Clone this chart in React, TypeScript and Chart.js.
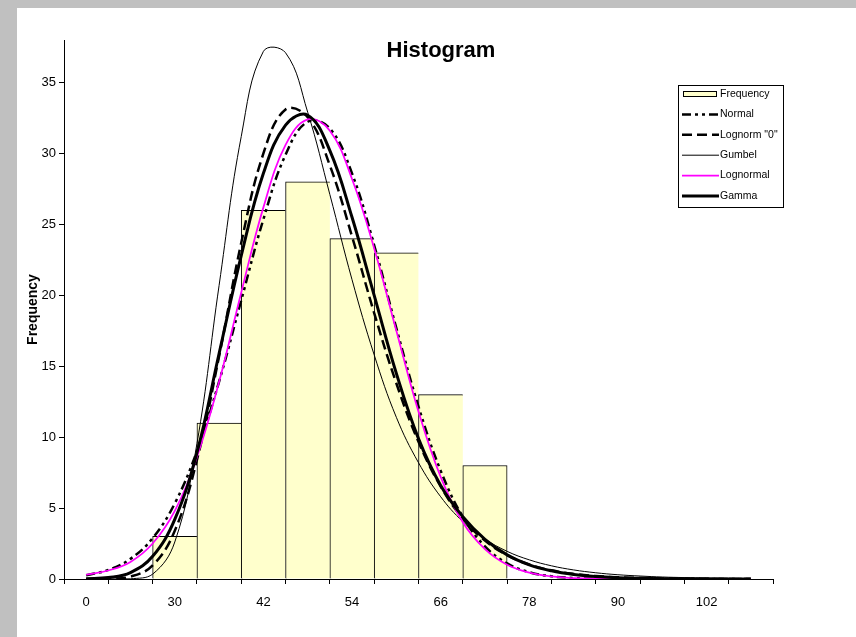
import React, { useEffect, useRef } from "react";
import { Chart, registerables } from "chart.js";

Chart.register(...registerables);

// ---------- data ----------
const binLabels = ["0", "24", "30", "36", "42", "48", "54", "60", "66", "72", "78", "84", "90", "96", "102", "108"];
const frequency = [0, 0, 3, 11, 26, 28, 24, 23, 13, 8, 0, 0, 0, 0, 0, 0];

const curveX = [18, 21, 24, 27, 30, 33, 36, 39, 42, 45, 48, 51, 54, 57, 60, 63, 66, 69, 72, 75, 78, 81, 84, 87, 90, 93, 96, 99, 102, 105, 108];
const normal = [0.27, 0.64, 1.42, 2.88, 5.33, 9.01, 13.92, 19.65, 25.36, 29.91, 32.24, 31.76, 28.59, 23.53, 17.69, 12.16, 7.64, 4.38, 2.3, 1.1, 0.48, 0.19, 0.07, 0.02, 0.01, 0, 0, 0, 0, 0, 0];
const lognorm0 = [0, 0.015, 0.17, 0.96, 3.4, 8.39, 15.7, 23.7, 30.0, 33.1, 32.55, 29.15, 24.15, 18.75, 13.8, 9.67, 6.53, 4.26, 2.71, 1.68, 1.02, 0.61, 0.36, 0.21, 0.12, 0.07, 0.04, 0.02, 0.01, 0.005, 0];
const gumbel = [0, 0, 0.014, 0.34, 2.61, 9.55, 20.7, 31.2, 37.2, 37.1, 32.9, 27.1, 21.1, 15.8, 11.4, 8.2, 5.8, 4.05, 2.82, 1.95, 1.35, 0.93, 0.64, 0.44, 0.3, 0.21, 0.14, 0.1, 0.07, 0.045, 0.03];
const lognormal = [0.3, 0.6, 1.2, 2.5, 4.8, 8.6, 13.9, 20.2, 26.2, 30.6, 32.4, 31.6, 28.2, 23.3, 17.5, 11.8, 7.2, 4.0, 2.1, 1.0, 0.45, 0.18, 0.07, 0.02, 0, 0, 0, 0, 0, 0, 0];
const gamma = [0.02, 0.1, 0.45, 1.6, 4.2, 8.9, 15.9, 22.8, 28.6, 32.0, 32.7, 30.2, 25.5, 20.0, 14.5, 9.9, 6.6, 4.4, 2.8, 1.7, 1.0, 0.58, 0.32, 0.17, 0.09, 0.05, 0.02, 0.01, 0, 0, 0];

const yMax = 38;
const yStep = 5;
const titleText = "Histogram";
const yTitleText = "Frequency";

const FONT = "'Liberation Sans', Arial, Helvetica, sans-serif";

type LegendItem = {
  label: string;
  kind: "box" | "line";
  color?: string;
  width?: number;
  dash?: number[];
};

const legendItems: LegendItem[] = [
  { label: "Frequency", kind: "box" },
  { label: "Normal", kind: "line", color: "#000000", width: 2.5, dash: [9, 4, 3, 4, 3, 4] },
  { label: 'Lognorm "0"', kind: "line", color: "#000000", width: 2.5, dash: [10, 5] },
  { label: "Gumbel", kind: "line", color: "#000000", width: 1, dash: [] },
  { label: "Lognormal", kind: "line", color: "#ff00ff", width: 1.75, dash: [] },
  { label: "Gamma", kind: "line", color: "#000000", width: 3, dash: [] },
];

const toXY = (ys: number[]) => ys.map((y, i) => ({ x: curveX[i], y }));

const decorPlugin = {
  id: "decor",
  afterDraw(chart: any) {
    const ctx = chart.ctx as CanvasRenderingContext2D;
    const area = chart.chartArea;
    ctx.save();
    // title
    ctx.fillStyle = "#000";
    ctx.font = `bold 22px ${FONT}`;
    ctx.textAlign = "center";
    ctx.textBaseline = "alphabetic";
    ctx.fillText(titleText, 424, 49);

    // y axis title
    ctx.save();
    ctx.translate(16, (area.top + area.bottom) / 2);
    ctx.rotate(-Math.PI / 2);
    ctx.font = `bold 14px ${FONT}`;
    ctx.textAlign = "center";
    ctx.textBaseline = "middle";
    ctx.fillText(yTitleText, 0, 0);
    ctx.restore();

    // legend
    const bx = 661.5, by = 77.5, bw = 105, bh = 122;
    ctx.fillStyle = "#ffffff";
    ctx.fillRect(bx, by, bw, bh);
    ctx.strokeStyle = "#000";
    ctx.lineWidth = 1;
    ctx.setLineDash([]);
    ctx.strokeRect(bx, by, bw, bh);
    const x0 = 665, x1 = 702;
    legendItems.forEach((it, i) => {
      const y = 86 + i * 20.4;
      if (it.kind === "box") {
        ctx.fillStyle = "#ffffcc";
        ctx.fillRect(x0 + 1, y - 2.5, x1 - x0 - 4, 5);
        ctx.strokeStyle = "#000";
        ctx.lineWidth = 1;
        ctx.strokeRect(x0 + 1.5, y - 2.5, x1 - x0 - 4, 5);
      } else {
        ctx.strokeStyle = it.color!;
        ctx.lineWidth = it.width!;
        ctx.setLineDash(it.dash!);
        ctx.beginPath();
        ctx.moveTo(x0, y);
        ctx.lineTo(x1, y);
        ctx.stroke();
        ctx.setLineDash([]);
      }
      ctx.fillStyle = "#000";
      ctx.font = `10.5px ${FONT}`;
      ctx.textAlign = "left";
      ctx.textBaseline = "middle";
      ctx.fillText(it.label, x1 + 1, y);
    });
    ctx.restore();
  },
};

export default function App() {
  const ref = useRef<HTMLCanvasElement | null>(null);

  useEffect(() => {
    if (!ref.current) return;
    const lineDs = (label: string, data: number[], color: string, width: number, dash: number[]) => ({
      type: "line" as const,
      label,
      data: toXY(data),
      xAxisID: "xv",
      yAxisID: "y",
      borderColor: color,
      backgroundColor: color,
      borderWidth: width,
      borderDash: dash,
      pointRadius: 0,
      tension: 0.4,
      fill: false,
      order: 1,
    });

    const chart = new Chart(ref.current, {
      type: "bar",
      data: {
        labels: binLabels,
        datasets: [
          {
            type: "bar",
            label: "Frequency",
            data: frequency,
            xAxisID: "x",
            yAxisID: "y",
            backgroundColor: "#ffffcc",
            borderColor: "#000000",
            borderWidth: (c: any) => {
              const i = c.dataIndex;
              const next = frequency[i + 1] || 0;
              return { top: 1, left: 1, bottom: 0, right: next > 0 ? 0 : 1 };
            },
            borderSkipped: false,
            categoryPercentage: 1,
            barPercentage: 1,
            grouped: false,
            order: 10,
          } as any,
          lineDs("Gamma", gamma, "#000000", 3, []),
          lineDs("Lognormal", lognormal, "#ff00ff", 1.75, []),
          lineDs("Gumbel", gumbel, "#000000", 1, []),
          lineDs('Lognorm "0"', lognorm0, "#000000", 2.5, [10, 5]),
          lineDs("Normal", normal, "#000000", 2.5, [9, 4, 3, 4, 3, 4]),
        ],
      },
      options: {
        responsive: false,
        animation: false,
        layout: { padding: { left: 0, top: 32, right: 83, bottom: 0 } },
        plugins: {
          legend: { display: false },
          title: { display: false },
          tooltip: { enabled: false },
        },
        scales: {
          x: {
            type: "category",
            position: "bottom",
            offset: true,
            grid: {
              display: true,
              drawOnChartArea: false,
              drawTicks: true,
              tickLength: 5,
              color: "#000",
              offset: true,
            },
            border: { display: true, color: "#000", width: 1 },
            ticks: {
              autoSkip: false,
              maxRotation: 0,
              padding: 11,
              color: "#000",
              font: { family: FONT, size: 13 },
              callback: (_v: any, i: number) => (i % 2 === 0 ? binLabels[i] : ""),
            },
            afterFit: (s: any) => {
              s.height = 58;
            },
          },
          xv: {
            type: "linear",
            display: false,
            offset: false,
            grid: { offset: false },
            min: 15,
            max: 111,
          },
          y: {
            type: "linear",
            position: "left",
            min: 0,
            max: yMax,
            grid: {
              display: true,
              drawOnChartArea: false,
              drawTicks: true,
              tickLength: 5,
              color: "#000",
            },
            border: { display: true, color: "#000", width: 1 },
            ticks: {
              stepSize: yStep,
              padding: 3,
              color: "#000",
              font: { family: FONT, size: 13 },
            },
            afterBuildTicks: (s: any) => {
              s.ticks = s.ticks.filter((t: any) => t.value % yStep === 0);
            },
            afterFit: (s: any) => {
              s.width = 47;
            },
          },
        },
      } as any,
      plugins: [decorPlugin],
    });
    return () => chart.destroy();
  }, []);

  return (
    <div style={{ position: "fixed", left: 0, top: 0, width: 856, height: 637, background: "#c0c0c0" }}>
      <div style={{ position: "absolute", left: 17, top: 8, width: 839, height: 629, background: "#ffffff" }}>
        <canvas ref={ref} width={839} height={629} style={{ display: "block", width: 839, height: 629 }} />
      </div>
    </div>
  );
}
